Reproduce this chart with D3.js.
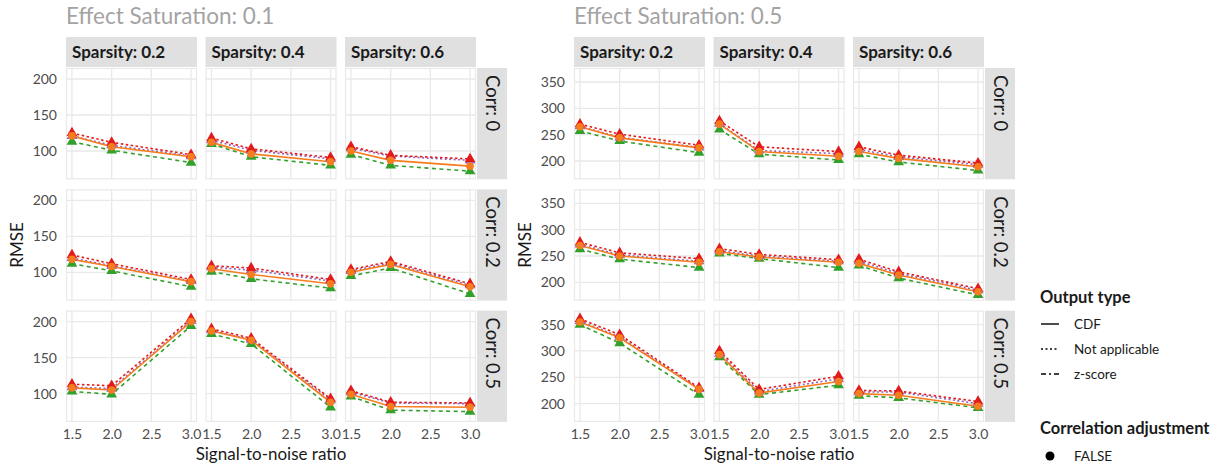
<!DOCTYPE html>
<html>
<head>
<meta charset="utf-8">
<script src="https://cdn.jsdelivr.net/npm/d3@7"></script>
<style>
  html, body { margin: 0; padding: 0; background: #fff; }
  svg { display: block; font-family: Lato, "Noto Sans", sans-serif; }
</style>
</head>
<body>
<svg id="chart" width="1231" height="467"></svg>
<script>
// Facet levels and x values
const snr = [1.5, 2.0, 3.0];
const snrTicks = [1.5, 2.0, 2.5, 3.0];
const saturations = ["0.1", "0.5"];
const sparsities = ["0.2", "0.4", "0.6"];
const corrs = ["0", "0.2", "0.5"];
const yTicksLow = [100, 150, 200];
const yTicksHigh = [200, 250, 300, 350];

// RMSE per series: [corr][sparsity] -> values at snr 1.5, 2.0, 3.0
// Effect saturation 0.1
const redES1 = [
  [[125, 112, 95], [118, 103, 91], [106, 94, 89]],
  [[124, 112, 90], [109, 106, 90], [104, 115, 84]],
  [[113, 111, 204], [190, 177, 93], [104, 88, 87]]
];
const purpleES1 = [
  [[121, 108, 93], [115, 101, 89], [104, 93, 87]],
  [[120, 109, 88], [107, 103, 88], [102, 113, 82]],
  [[109, 107, 201], [188, 175, 91], [102, 87, 86]]
];
const orangeES1 = [
  [[121, 106, 92], [112, 96, 85], [100, 87, 79]],
  [[118, 108, 87], [105, 97, 84], [100, 111, 80]],
  [[108, 105, 200], [187, 174, 88], [99, 82, 81]]
];
const greenES1 = [
  [[113, 101, 84], [110, 92, 80], [95, 80, 72]],
  [[112, 102, 80], [101, 91, 78], [95, 106, 70]],
  [[103, 99, 194], [183, 169, 81], [96, 77, 75]]
];
// Effect saturation 0.5
const redES5 = [
  [[270, 251, 230], [276, 227, 218], [227, 211, 196]],
  [[276, 256, 245], [264, 253, 243], [244, 220, 188]],
  [[361, 331, 230], [300, 227, 252], [225, 224, 204]]
];
const purpleES5 = [
  [[266, 245, 226], [271, 220, 214], [222, 208, 193]],
  [[272, 252, 240], [260, 250, 240], [240, 217, 185]],
  [[357, 327, 228], [295, 223, 247], [222, 222, 200]]
];
const orangeES5 = [
  [[265, 244, 225], [270, 218, 209], [218, 205, 189]],
  [[270, 250, 238], [258, 248, 238], [236, 214, 182]],
  [[355, 325, 227], [293, 220, 242], [219, 216, 195]]
];
const greenES5 = [
  [[257, 238, 216], [260, 213, 202], [213, 198, 182]],
  [[263, 244, 228], [255, 245, 228], [232, 208, 176]],
  [[350, 315, 217], [288, 217, 235], [215, 211, 192]]
];

const outputTypes = ["CDF", "Not applicable", "z-score"];
const adjustLevels = ["FALSE"];

// Series styling (draw order: bottom to top)
const seriesStyle = [
  { key: "green",  color: "#33a02c", dash: "4,3.5", shape: "triangle" },
  { key: "purple", color: "#8e63c4", dash: "2,2.5", shape: "triangle" },
  { key: "red",    color: "#e31a1c", dash: "2.5,2.5", shape: "triangle" },
  { key: "orange", color: "#f67d1e", dash: null,    shape: "circle" }
];
const groupData = [
  { green: greenES1, purple: purpleES1, red: redES1, orange: orangeES1 },
  { green: greenES5, purple: purpleES5, red: redES5, orange: orangeES5 }
];

// Layout
const groupLeft = [66, 574];
const panelW = 131, panelGap = 8.5;
const stripTop = 37, stripH = 30;
const rowTop0 = 68, rowH = 111.3, rowGap = 10;
const yDomains = [[60.7, 215.3], [165.3, 376.6]];
const yTickSets = [yTicksLow, yTicksHigh];

const svg = d3.select("#chart");
const gridColor = "#e9e9e9";
const textGray = "#4d4d4d";

saturations.forEach((es, gi) => {
  const gx = groupLeft[gi];
  const g = svg.append("g");

  // Group title
  g.append("text")
    .attr("x", gx).attr("y", 24)
    .attr("font-size", 22.5).attr("fill", "#a3a3a3")
    .text("Effect Saturation: " + es);

  const panelsRight = gx + 3 * panelW + 2 * panelGap;

  // Column strips
  sparsities.forEach((sp, ci) => {
    const px = gx + ci * (panelW + panelGap);
    g.append("rect").attr("x", px).attr("y", stripTop)
      .attr("width", panelW).attr("height", stripH).attr("fill", "#e0e0e0");
    g.append("text").attr("x", px + 6).attr("y", stripTop + 21)
      .attr("font-size", 17).attr("font-weight", "bold").attr("fill", "#1a1a1a")
      .text("Sparsity: " + sp);
  });

  const x = d3.scaleLinear().domain([1.425, 3.075]);
  const y = d3.scaleLinear().domain(yDomains[gi]);

  corrs.forEach((cr, ri) => {
    const py = rowTop0 + ri * (rowH + rowGap);
    y.range([py + rowH, py]);

    // Row strip
    g.append("rect").attr("x", panelsRight + 1).attr("y", py)
      .attr("width", stripH).attr("height", rowH).attr("fill", "#e0e0e0");
    g.append("text")
      .attr("transform", `translate(${panelsRight + 1 + stripH / 2 - 6.5},${py + 7}) rotate(90)`)
      .attr("font-size", 18.5).attr("fill", "#1a1a1a")
      .text("Corr: " + cr);

    // Y axis labels (left column only)
    const yAxis = d3.axisLeft(y).tickValues(yTickSets[gi]).tickSize(0).tickPadding(0)
      .tickFormat(d3.format("d"));
    const ya = g.append("g").attr("transform", `translate(${gx - 9},0)`).call(yAxis);
    ya.select(".domain").remove();
    ya.selectAll("text").attr("font-size", 14).attr("fill", textGray)
      .attr("font-family", "Lato, sans-serif");

    sparsities.forEach((sp, ci) => {
      const px = gx + ci * (panelW + panelGap);
      x.range([px, px + panelW]);
      const pg = g.append("g");

      // Panel frame and grid
      pg.append("rect").attr("x", px + 0.5).attr("y", py + 0.5)
        .attr("width", panelW - 1).attr("height", rowH - 1)
        .attr("fill", "#fff").attr("stroke", gridColor).attr("stroke-width", 1.2);
      snrTicks.forEach(t => {
        pg.append("line").attr("x1", x(t)).attr("x2", x(t))
          .attr("y1", py).attr("y2", py + rowH)
          .attr("stroke", gridColor).attr("stroke-width", 1.3);
      });
      yTickSets[gi].forEach(t => {
        pg.append("line").attr("x1", px).attr("x2", px + panelW)
          .attr("y1", y(t)).attr("y2", y(t))
          .attr("stroke", gridColor).attr("stroke-width", 1.3);
      });

      const line = d3.line().x((d, i) => x(snr[i])).y(d => y(d));

      // Lines
      seriesStyle.forEach(s => {
        const vals = groupData[gi][s.key][ri][ci];
        pg.append("path").datum(vals).attr("d", line)
          .attr("fill", "none").attr("stroke", s.color)
          .attr("stroke-width", 1.6)
          .attr("stroke-dasharray", s.dash);
      });
      // Points
      const tri = d3.symbol().type(d3.symbolTriangle).size(50);
      seriesStyle.forEach(s => {
        const vals = groupData[gi][s.key][ri][ci];
        vals.forEach((v, i) => {
          if (s.shape === "circle") {
            pg.append("circle").attr("cx", x(snr[i])).attr("cy", y(v))
              .attr("r", 3.8).attr("fill", s.color);
          } else {
            pg.append("path").attr("d", tri)
              .attr("transform", `translate(${x(snr[i])},${y(v)})`)
              .attr("fill", s.color);
          }
        });
      });

      // X axis labels on bottom row
      if (ri === corrs.length - 1) {
        const xAxis = d3.axisBottom(x).tickValues(snrTicks).tickSize(0).tickPadding(0)
          .tickFormat(d3.format(".1f"));
        const xa = g.append("g").attr("transform", `translate(0,${py + rowH + 7.5})`).call(xAxis);
        xa.select(".domain").remove();
        xa.selectAll("text").attr("font-size", 14).attr("fill", textGray)
          .attr("font-family", "Lato, sans-serif").attr("dy", "0.71em");
      }
    });
  });

  // Axis titles
  const midY = (rowTop0 + rowTop0 + 3 * rowH + 2 * rowGap) / 2;
  g.append("text")
    .attr("transform", `translate(${gx - 43},${midY}) rotate(-90)`)
    .attr("text-anchor", "middle").attr("font-size", 17).attr("fill", "#1a1a1a")
    .text("RMSE");
  g.append("text")
    .attr("x", (gx + panelsRight) / 2).attr("y", 460)
    .attr("text-anchor", "middle").attr("font-size", 17).attr("fill", "#1a1a1a")
    .text("Signal-to-noise ratio");
});

// Legends
const lg = svg.append("g");
lg.append("text").attr("x", 1040).attr("y", 303)
  .attr("font-size", 16.5).attr("font-weight", "bold").attr("fill", "#1a1a1a")
  .text("Output type");
const legendDash = [null, "2,2.5", "5,3,2,3"];
outputTypes.forEach((t, i) => {
  const yy = 324 + i * 25;
  lg.append("line").attr("x1", 1041).attr("x2", 1059).attr("y1", yy).attr("y2", yy)
    .attr("stroke", "#000").attr("stroke-width", 1.4)
    .attr("stroke-dasharray", legendDash[i]);
  lg.append("text").attr("x", 1074).attr("y", yy + 4.5)
    .attr("font-size", 13.5).attr("fill", "#1a1a1a").text(t);
});
lg.append("text").attr("x", 1040).attr("y", 434)
  .attr("font-size", 16.5).attr("font-weight", "bold").attr("fill", "#1a1a1a")
  .text("Correlation adjustment");
adjustLevels.forEach((t, i) => {
  const yy = 456 + i * 25;
  lg.append("circle").attr("cx", 1050).attr("cy", yy).attr("r", 4.5).attr("fill", "#000");
  lg.append("text").attr("x", 1074).attr("y", yy + 4.5)
    .attr("font-size", 13.5).attr("fill", "#1a1a1a").text(t);
});
</script>
</body>
</html>
